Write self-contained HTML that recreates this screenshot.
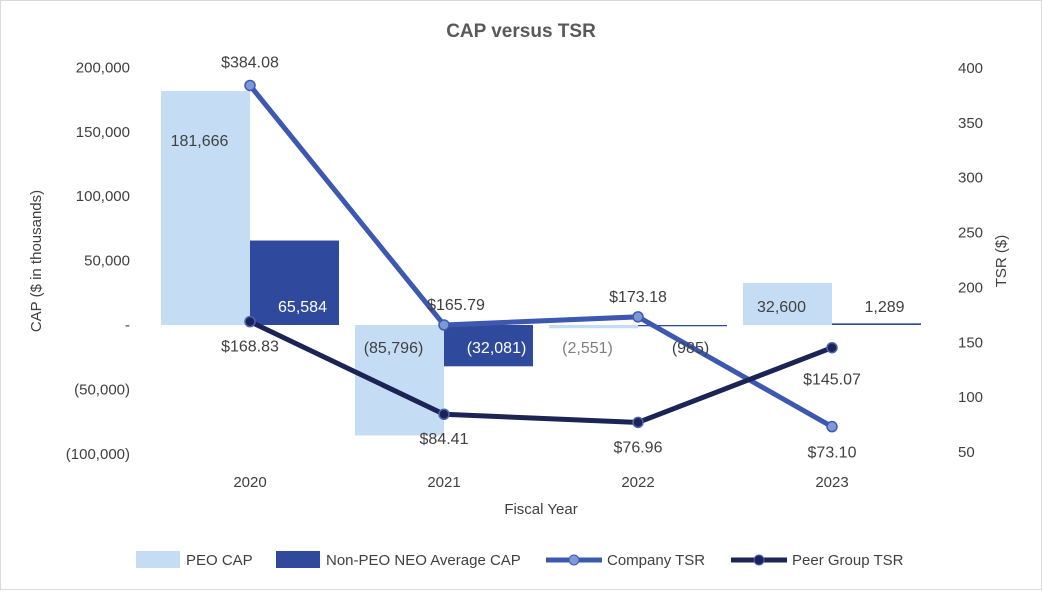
<!DOCTYPE html>
<html><head><meta charset="utf-8"><style>
body{margin:0;background:#fff;font-family:"Liberation Sans",sans-serif}
svg text{font-family:"Liberation Sans",sans-serif}
</style></head><body>
<svg width="1042" height="590" viewBox="0 0 1042 590">
<rect x="0.5" y="0.5" width="1041" height="589" fill="#fff" stroke="#d9d9d9"/>
<text x="521" y="37" text-anchor="middle" font-size="19" font-weight="bold" fill="#595959">CAP versus TSR</text>
<g id="axes"></g><g id="bars"></g><g id="lines"></g><g id="labels"></g>
<text transform="translate(41,261) rotate(-90)" text-anchor="middle" font-size="15" fill="#404040">CAP ($ in thousands)</text>
<text transform="translate(1006,261) rotate(-90)" text-anchor="middle" font-size="15" fill="#404040">TSR ($)</text>
<text x="541" y="514" text-anchor="middle" font-size="15" fill="#404040">Fiscal Year</text>
<g font-size="15" fill="#404040">
<rect x="136" y="551" width="44" height="17" fill="#c5ddf4"/>
<text x="186" y="565">PEO CAP</text>
<rect x="276" y="551" width="44" height="17" fill="#2f4a9c"/>
<text x="326" y="565">Non-PEO NEO Average CAP</text>
<line x1="546" y1="560" x2="602" y2="560" stroke="#3d58b0" stroke-width="5"/>
<circle cx="574" cy="560" r="5" fill="#7c9ad6" stroke="#3d58b0"/>
<text x="607" y="565">Company TSR</text>
<line x1="731" y1="560" x2="787" y2="560" stroke="#1b2455" stroke-width="5"/>
<circle cx="759" cy="560" r="5" fill="#1b2455" stroke="#4a63b5"/>
<text x="792" y="565">Peer Group TSR</text>
</g>
</svg>
<script>
const years=["2020","2021","2022","2023"];
const peoCap=[181666,-85796,-2551,32600];
const nonPeoCap=[65584,-32081,-985,1289];
const companyTsr=[384.08,165.79,173.18,73.10];
const peerTsr=[168.83,84.41,76.96,145.07];
const leftTicks=[200000,150000,100000,50000,0,-50000,-100000];
const leftTickLabels=["200,000","150,000","100,000","50,000","-","(50,000)","(100,000)"];
const rightTicks=[400,350,300,250,200,150,100,50];
const peoLabels=["181,666","(85,796)","(2,551)","32,600"];
const nonPeoLabels=["65,584","(32,081)","(985)","1,289"];
const companyLabels=["$384.08","$165.79","$173.18","$73.10"];
const peerLabels=["$168.83","$84.41","$76.96","$145.07"];

const NS="http://www.w3.org/2000/svg";
const yL=v=>325-v*(64.4/50000);
const yR=v=>452-(v-50)*(384/350);
const xC=i=>250+i*194;
const BW=89;
function mk(parent,tag,attrs,txt){const e=document.createElementNS(NS,tag);for(const k in attrs)e.setAttribute(k,attrs[k]);if(txt!==undefined)e.textContent=txt;document.getElementById(parent).appendChild(e);return e;}

leftTicks.forEach((t,i)=>{
 const e=mk('axes','text',{x:130,y:yL(t)+5,'text-anchor':'end','font-size':15,fill:'#404040'},leftTickLabels[i]);
 
 
});
rightTicks.forEach(t=>{
 const e=mk('axes','text',{x:958,y:yR(t)+5,'font-size':15,fill:'#404040'},String(t));
 
 
});
years.forEach((y,i)=>{
 const e=mk('axes','text',{x:xC(i),y:487,'text-anchor':'middle','font-size':15,fill:'#404040'},y);
 
 
});
years.forEach((y,i)=>{
 const a=yL(peoCap[i]),z=yL(0);
 const b=mk('bars','rect',{x:xC(i)-BW,y:Math.min(a,z),width:BW,height:Math.max(Math.abs(z-a),1),fill:'#c5ddf4'});
 
 
 const c=yL(nonPeoCap[i]);
 const b2=mk('bars','rect',{x:xC(i),y:Math.min(c,z),width:BW,height:Math.max(Math.abs(z-c),1),fill:'#2f4a9c'});
 
 
});
function line(vals,stroke,fill,ms,name){
 const pts=vals.map((v,i)=>xC(i)+','+yR(v)).join(' ');
 const p=mk('lines','polyline',{points:pts,fill:'none',stroke:stroke,'stroke-width':5,'stroke-linejoin':'round'});
 
 
 vals.forEach((v,i)=>{
  const c=mk('lines','circle',{cx:xC(i),cy:yR(v),r:5,fill:fill,stroke:ms,'stroke-width':1.5});
  
  
 });
}
line(companyTsr,'#3d58b0','#7c9ad6','#3d58b0','company-tsr');
line(peerTsr,'#1b2455','#1b2455','#4a63b5','peer-tsr');

function lab(x,y,t,col,name){const e=mk('labels','text',{x:x,y:y,'text-anchor':'middle','font-size':16,fill:col},t);
 
 }
years.forEach((y,i)=>{
 const pv=peoCap[i];
 lab(xC(i)-BW/2-6, pv>100000?yL(pv)+55:(pv>0?yL(0)-13:yL(0)+28), peoLabels[i], pv<0&&pv>-10000?'#808080':'#404040','peo-cap-label');
 const nv=nonPeoCap[i];
 lab(xC(i)+BW/2+8, nv>0?yL(0)-13:yL(0)+28, nonPeoLabels[i], nv>0&&nv>10000||nv<-10000?'#fff':'#404040','nonpeo-cap-label');
 const cv=companyTsr[i];
 const cy=i==0?yR(cv)-18:(i==3?yR(cv)+31:yR(cv)-15);
 lab(xC(i)+(i==1?12:0),cy,companyLabels[i],'#404040','company-tsr-label');
 const pr=peerTsr[i];
 lab(xC(i),yR(pr)+(i==3?37:30),peerLabels[i],'#404040','peer-tsr-label');
});
</script>
</body></html>
